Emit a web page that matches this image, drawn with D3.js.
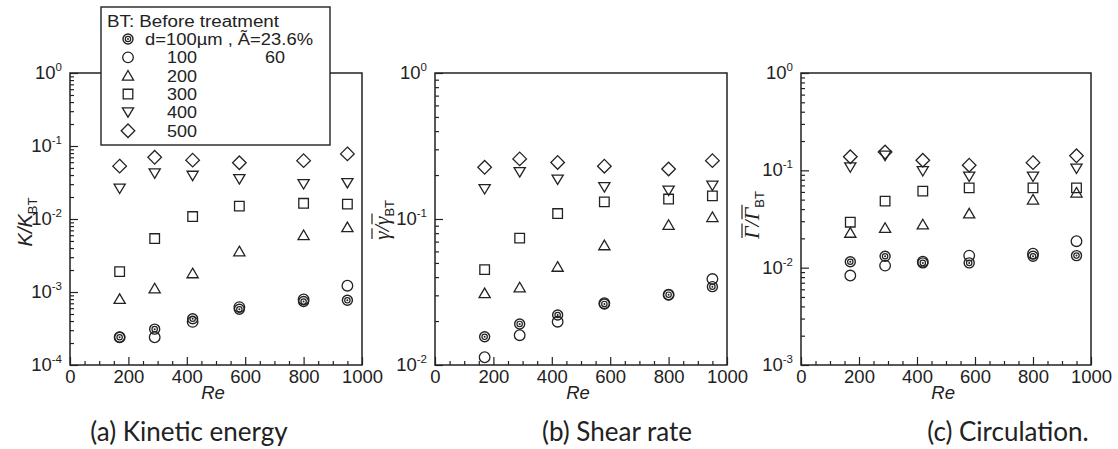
<!DOCTYPE html>
<html>
<head>
<meta charset="utf-8">
<script src="https://cdn.jsdelivr.net/npm/d3@7"></script>
<style>
  body { margin: 0; background: #fff; }
  svg { display: block; }
  text { fill: #222; }
</style>
</head>
<body>
<div id="chart"></div>
<script>
// Re values (same for every panel)
let reValues = [170, 290, 420, 580, 800, 950];

// (a) kinetic energy K/K_BT
let keDot     = [0.00024, 0.00031, 0.00043, 0.00058, 0.00074, 0.00077];
let keCircle  = [0.00024, 0.00024, 0.00039, 0.00062, 0.00079, 0.00122];
let keTri     = [0.00080, 0.00112, 0.0018, 0.0036, 0.0060, 0.0077];
let keSquare  = [0.0019, 0.0054, 0.0108, 0.015, 0.0164, 0.016];
let keDown    = [0.026, 0.042, 0.039, 0.035, 0.030, 0.031];
let keDiamond = [0.053, 0.070, 0.064, 0.059, 0.063, 0.078];

// (b) shear rate
let srDot     = [0.0156, 0.0191, 0.0220, 0.0262, 0.0303, 0.0344];
let srCircle  = [0.0113, 0.0160, 0.0198, 0.0265, 0.0303, 0.0388];
let srTri     = [0.031, 0.034, 0.047, 0.066, 0.091, 0.103];
let srSquare  = [0.045, 0.074, 0.109, 0.131, 0.137, 0.144];
let srDown    = [0.160, 0.209, 0.186, 0.165, 0.156, 0.169];
let srDiamond = [0.226, 0.258, 0.244, 0.230, 0.220, 0.251];

// (c) circulation
let ciDot     = [0.0115, 0.0131, 0.0112, 0.0112, 0.0131, 0.0133];
let ciCircle  = [0.0083, 0.0105, 0.0115, 0.0133, 0.0139, 0.0187];
let ciTri     = [0.0228, 0.0256, 0.0278, 0.036, 0.050, 0.059];
let ciSquare  = [0.0293, 0.0483, 0.0612, 0.066, 0.066, 0.066];
let ciDown    = [0.107, 0.141, 0.098, 0.086, 0.086, 0.104];
let ciDiamond = [0.138, 0.154, 0.127, 0.113, 0.120, 0.141];

let markerNames = ["dot", "circle", "tri", "square", "down", "diamond"];
let legendDiam = ["d=100\u00b5m , \u00c3=23.6%", "100", "200", "300", "400", "500"];
let legendRatio = ["", "60", "", "", "", ""];
let xTicks = [0, 200, 400, 600, 800, 1000];

let panels = [
  { left: 70, right: 362, yMin: 1e-4, series: [keDot, keCircle, keTri, keSquare, keDown, keDiamond], caption: "(a) Kinetic energy", capX: 189 },
  { left: 435, right: 727, yMin: 1e-2, series: [srDot, srCircle, srTri, srSquare, srDown, srDiamond], caption: "(b) Shear rate", capX: 617 },
  { left: 801, right: 1091, yMin: 1e-3, series: [ciDot, ciCircle, ciTri, ciSquare, ciDown, ciDiamond], caption: "(c) Circulation.", capX: 1008 }
];

let plotTop = 73;
let plotBottom = 365;
let ink = "#222";
let sans = "Liberation Sans, Arial, sans-serif";

let svg = d3.select("#chart").append("svg")
  .attr("width", 1118)
  .attr("height", 449);

function drawMarker(g, kind) {
  if (kind === "dot") {
    g.append("circle").attr("r", 5).attr("fill", "#fff").attr("stroke", ink).attr("stroke-width", 1.4);
    g.append("circle").attr("r", 2.7).attr("fill", "none").attr("stroke", ink).attr("stroke-width", 1.2);
    g.append("circle").attr("r", 1).attr("fill", ink);
  } else if (kind === "circle") {
    g.append("circle").attr("r", 5.3).attr("fill", "none").attr("stroke", ink).attr("stroke-width", 1.3);
  } else {
    let paths = {
      tri: "M0,-5.2L5.6,4.4L-5.6,4.4Z",
      down: "M0,4.8L5.6,-4.6L-5.6,-4.6Z",
      square: "M-4.8,-4.8H4.8V4.8H-4.8Z",
      diamond: "M0,-6.8L6.8,0L0,6.8L-6.8,0Z"
    };
    g.append("path").attr("d", paths[kind]).attr("fill", "none")
      .attr("stroke", ink).attr("stroke-width", 1.3).attr("stroke-linejoin", "miter");
  }
}

panels.forEach(function(p) {
  let x = d3.scaleLinear().domain([0, 1000]).range([p.left, p.right]);
  let y = d3.scaleLog().domain([p.yMin, 1]).range([plotBottom, plotTop]);

  let g = svg.append("g");

  let isDecade = v => Math.abs(Math.log10(v) - Math.round(Math.log10(v))) <= 1e-6;
  let minorY = y.ticks().filter(v => !isDecade(v));
  let majorY = y.ticks().filter(isDecade);

  g.append("g").attr("transform", `translate(${p.left},0)`)
    .call(d3.axisLeft(y).tickValues(minorY).tickSize(-4).tickFormat(""))
    .call(a => a.select(".domain").remove())
    .selectAll("line").attr("stroke", ink).attr("stroke-width", 1.2);
  g.append("g").attr("transform", `translate(${p.left},0)`)
    .call(d3.axisLeft(y).tickValues(majorY).tickSize(-8).tickFormat(""))
    .call(a => a.select(".domain").remove())
    .selectAll("line").attr("stroke", ink).attr("stroke-width", 1.2);

  g.append("g").attr("transform", `translate(0,${plotBottom})`)
    .call(d3.axisBottom(x).tickValues(d3.range(50, 1000, 50).filter(v => v % 200 !== 0)).tickSize(-4).tickFormat(""))
    .call(a => a.select(".domain").remove())
    .selectAll("line").attr("stroke", ink).attr("stroke-width", 1.2);
  let xAxis = g.append("g").attr("transform", `translate(0,${plotBottom})`)
    .call(d3.axisBottom(x).tickValues(xTicks).tickSize(-8).tickPadding(5).tickFormat(d3.format("d")))
    .call(a => a.select(".domain").remove());
  xAxis.selectAll("line").attr("stroke", ink).attr("stroke-width", 1.2);
  xAxis.selectAll("text")
    .attr("font-family", sans)
    .attr("font-size", 18.5)
    .attr("fill", ink);

  // frame
  g.append("rect")
    .attr("x", p.left).attr("y", plotTop)
    .attr("width", p.right - p.left).attr("height", plotBottom - plotTop)
    .attr("fill", "none").attr("stroke", ink).attr("stroke-width", 1.5);

  // decade labels 10^n
  majorY.forEach(function(v) {
    let t = g.append("text")
      .attr("x", p.left - 8)
      .attr("y", y(v) + 6)
      .attr("text-anchor", "end")
      .attr("font-family", sans)
      .attr("font-size", 18.5);
    t.append("tspan").text("10");
    t.append("tspan").attr("dy", -8).attr("font-size", 11.5)
      .text(String(Math.round(Math.log10(v))));
  });

  // x title
  g.append("text")
    .attr("x", x(490)).attr("y", 399)
    .attr("text-anchor", "middle")
    .attr("font-family", sans)
    .attr("font-style", "italic")
    .attr("font-size", 18.5)
    .text("Re");

  // caption
  g.append("text")
    .attr("x", p.capX).attr("y", 441)
    .attr("text-anchor", "middle")
    .attr("font-family", "Lato, Open Sans, sans-serif")
    .attr("font-size", 26)
    .attr("fill", "#333")
    .text(p.caption);

  // markers
  p.series.forEach(function(vals, si) {
    reValues.forEach(function(re, i) {
      let m = g.append("g").attr("transform", `translate(${x(re)},${y(vals[i])})`);
      drawMarker(m, markerNames[si]);
    });
  });
});

// y axis titles
let ya = svg.append("text")
  .attr("transform", "translate(32,222) rotate(-90)")
  .attr("text-anchor", "middle")
  .attr("font-family", sans)
  .attr("font-size", 20)
  .attr("font-style", "italic");
ya.append("tspan").text("K/K");
ya.append("tspan").attr("font-style", "normal").attr("font-size", 13).attr("dy", 5).text("BT");

// overlined ratio label: symbol/symbol_BT, overline drawn over chars 0 and 2
function overLabel(tx, ty, sym) {
  let grp = svg.append("g").attr("transform", `translate(${tx},${ty}) rotate(-90)`);
  let t = grp.append("text")
    .attr("text-anchor", "middle")
    .attr("font-family", "Liberation Serif, Times New Roman, serif")
    .attr("font-size", 22)
    .attr("font-style", "italic");
  t.append("tspan").text(sym + "/" + sym);
  t.append("tspan").attr("font-style", "normal").attr("font-family", sans)
    .attr("font-size", 13).attr("dy", 5).text("BT");
  let node = t.node();
  [0, 2].forEach(function(ci) {
    let s = node.getStartPositionOfChar(ci);
    let e = node.getEndPositionOfChar(ci);
    grp.append("line")
      .attr("x1", s.x + 1).attr("x2", e.x + 3)
      .attr("y1", -17).attr("y2", -17)
      .attr("stroke", ink).attr("stroke-width", 1.2);
  });
}
overLabel(389, 220, "\u03b3");
overLabel(759, 215, "\u0393");

// legend
let legend = svg.append("g");
legend.append("rect")
  .attr("x", 101).attr("y", 7).attr("width", 229).attr("height", 138)
  .attr("fill", "#fff").attr("stroke", ink).attr("stroke-width", 1.4);
legend.append("text")
  .attr("x", 107).attr("y", 27)
  .attr("font-family", sans)
  .attr("font-size", 15.8)
  .attr("textLength", 172)
  .attr("lengthAdjust", "spacingAndGlyphs")
  .text("BT: Before treatment");
markerNames.forEach(function(name, i) {
  let yy = 45 + i * 18.35;
  let m = legend.append("g").attr("transform", `translate(128,${yy - 6})`);
  drawMarker(m, name);
  let t = legend.append("text")
    .attr("x", i === 0 ? 145 : 167).attr("y", yy)
    .attr("font-family", sans)
    .attr("font-size", 15.8)
    .text(legendDiam[i]);
  if (i === 0) {
    t.attr("textLength", 168).attr("lengthAdjust", "spacingAndGlyphs");
  } else {
    t.attr("textLength", 30).attr("lengthAdjust", "spacingAndGlyphs");
  }
  if (legendRatio[i]) {
    legend.append("text")
      .attr("x", 265).attr("y", yy)
      .attr("font-family", sans)
      .attr("font-size", 15.8)
      .attr("textLength", 20)
      .attr("lengthAdjust", "spacingAndGlyphs")
      .text(legendRatio[i]);
  }
});
</script>
</body>
</html>
